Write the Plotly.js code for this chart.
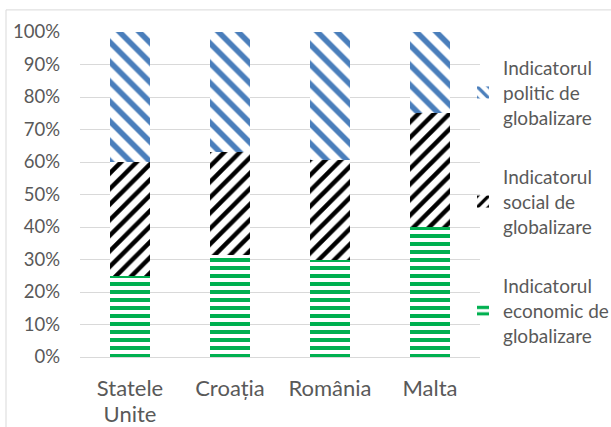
<!DOCTYPE html>
<html>
<head>
<meta charset="utf-8">
<script src="https://cdn.plot.ly/plotly-3.0.1.min.js"></script>
<style>
  html, body { margin: 0; padding: 0; background: #fff; overflow: hidden; }
  #chart { width: 611px; height: 427px; }
</style>
</head>
<body>
<div id="chart"></div>
<script>
const categories = ["Statele<br>Unite", "Croația", "România", "Malta"];
const economic = [25, 31.5, 30, 40];
const social = [35, 31.5, 30.5, 35];
const politic = [40, 37, 39.5, 25];
const seriesNames = [
  "Indicatorul<br>economic de<br>globalizare",
  "Indicatorul<br>social de<br>globalizare",
  "Indicatorul<br>politic de<br>globalizare"
];
const yTicks = [0, 10, 20, 30, 40, 50, 60, 70, 80, 90, 100];

const FONT = "Lato, 'Noto Sans', sans-serif";
const GREY = "#595959";

// category labels: slightly larger glyphs than the line spacing implies
function big(label, px) {
  return label.split("<br>").map(s => '<span style="font-size:' + px + 'px">' + s + '</span>').join("<br>");
}

function bar(y, name, shape, fg, size, solidity, group, rank) {
  return {
    type: "bar", x: categories.map(c => big(c, 22)), y: y,
    name: name, legendgroup: group, legendrank: rank,
    marker: {
      color: "#ffffff",
      line: { width: 0 },
      pattern: { shape: shape, fgcolor: fg, bgcolor: "#ffffff", size: size, solidity: solidity, fillmode: "replace" }
    },
    hoverinfo: "skip"
  };
}

const data = [
  bar(economic, seriesNames[0], "-", "#00B050", 8, 0.5, "g1", 3),
  bar(social, seriesNames[1], "/", "#000000", 11, 0.4, "g2", 2),
  bar(politic, seriesNames[2], "\\", "#4A7EBB", 14, 0.4, "g3", 1)
];

const layout = {
  width: 611, height: 427,
  margin: { l: 80, r: 131, t: 32, b: 70, autoexpand: false },
  paper_bgcolor: "#ffffff", plot_bgcolor: "#ffffff",
  barmode: "stack", bargap: 0.6,
  font: { family: FONT, size: 16, color: GREY },
  showlegend: true,
  legend: {
    x: 0.9575, xanchor: "left", y: 0.948, yanchor: "top",
    traceorder: "grouped", tracegroupgap: 32,
    font: { family: FONT, size: 19, color: GREY },
    itemwidth: 30, bgcolor: "rgba(0,0,0,0)"
  },
  xaxis: {
    type: "category", showgrid: false, showline: true, linecolor: "#d9d9d9", linewidth: 1,
    ticks: "", tickfont: { family: FONT, size: 20, color: GREY }, ticklabelstandoff: 14,
    fixedrange: true
  },
  yaxis: {
    range: [0, 100], tickvals: yTicks, ticktext: yTicks.map(v => v + "%"),
    showgrid: true, gridcolor: "#d9d9d9", gridwidth: 1, zeroline: false, showline: false,
    ticks: "", tickfont: { family: FONT, size: 18.5, color: GREY }, ticklabelstandoff: 19,
    fixedrange: true
  },
  shapes: [{
    type: "rect", xref: "paper", yref: "paper",
    x0: -0.185, x1: 1.4, y0: -0.4, y1: 1.068,
    line: { color: "#d9d9d9", width: 1 }, fillcolor: "rgba(0,0,0,0)", layer: "below"
  }]
};

Plotly.newPlot("chart", data, layout, { staticPlot: true, displayModeBar: false });
</script>
</body>
</html>
